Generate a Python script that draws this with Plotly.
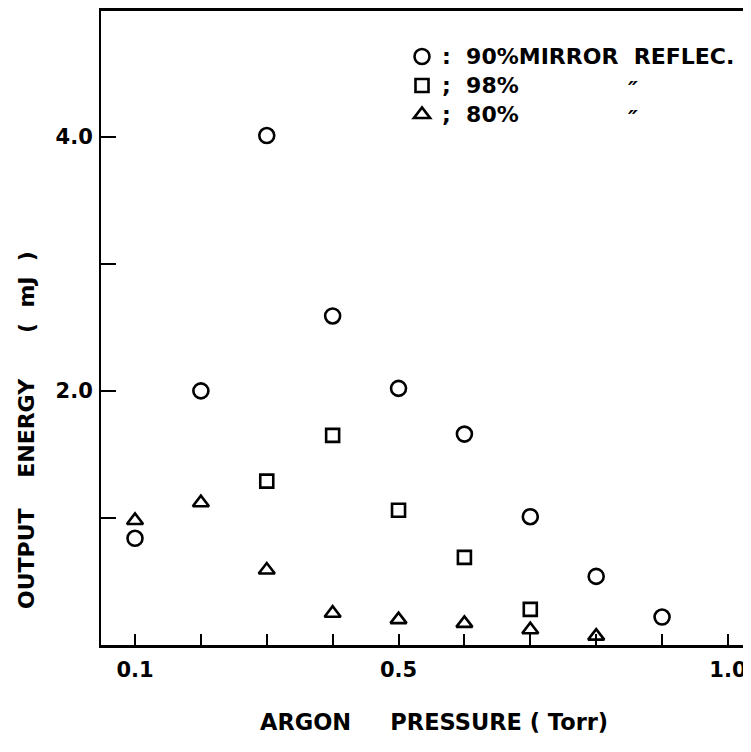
import plotly.graph_objects as go

# Argon pressure (Torr) vs output energy (mJ)
pressure_90 = [0.1, 0.2, 0.3, 0.4, 0.5, 0.6, 0.7, 0.8, 0.9]
energy_90 = [0.84, 2.00, 4.01, 2.59, 2.02, 1.66, 1.01, 0.54, 0.22]

pressure_98 = [0.3, 0.4, 0.5, 0.6, 0.7]
energy_98 = [1.29, 1.65, 1.06, 0.69, 0.28]

pressure_80 = [0.1, 0.2, 0.3, 0.4, 0.5, 0.6, 0.7, 0.8]
energy_80 = [0.98, 1.12, 0.59, 0.25, 0.20, 0.17, 0.12, 0.07]

series_names = [":&nbsp;&nbsp;90%MIRROR&nbsp;&nbsp;REFLEC.", ";&nbsp;&nbsp;98%", ";&nbsp;&nbsp;80%"]
ditto_mark = "\u2033"

x_tickvals = [0.1, 0.2, 0.3, 0.4, 0.5, 0.6, 0.7, 0.8, 0.9, 1.0]
x_ticktext = ["0.1", "", "", "", "0.5", "", "", "", "", "1.0"]
y_tickvals = [1, 2, 3, 4]
y_ticktext = ["", "2.0", "", "4.0"]

FONT = "DejaVu Sans"
OFF = 8  # page body margin offset
W, H = 751 - OFF, 752 - OFF
L, R, T, B = 93, 0, 3, 107
PW, PH = W - L - R, H - T - B


def px(xs):
    # screen x -> paper fraction
    return (xs - OFF - L) / PW


def py(ys):
    # screen y -> paper fraction
    return (H - B - (ys - OFF)) / PH


def legend_label(s):
    return '<span style="font-size:22px">' + s + '</span>'


fig = go.Figure()
fig.add_trace(go.Scatter(
    x=pressure_90, y=energy_90, mode="markers", name=legend_label(series_names[0]),
    marker=dict(symbol="circle-open", size=15, color="black", line=dict(width=2.6, color="black")),
))
fig.add_trace(go.Scatter(
    x=pressure_98, y=energy_98, mode="markers", name=legend_label(series_names[1]),
    marker=dict(symbol="square-open", size=13, color="black", line=dict(width=2.6, color="black")),
))
fig.add_trace(go.Scatter(
    x=pressure_80, y=energy_80, mode="markers", name=legend_label(series_names[2]),
    marker=dict(symbol="triangle-up-open", size=14, color="black", line=dict(width=2.6, color="black")),
))

# ditto marks for rows 2 and 3 of the key (one two-line text)
fig.add_annotation(text="<i>" + ditto_mark + "</i><br><i>" + ditto_mark + "</i>",
                   x=px(633), y=py(104), xref="paper", yref="paper",
                   xanchor="center", yanchor="middle", showarrow=False,
                   font=dict(family=FONT, size=22, color="black", weight="bold"))

# axis titles
fig.add_annotation(
    text="OUTPUT&nbsp;&nbsp;&nbsp;&nbsp;ENERGY&nbsp;&nbsp;&nbsp;&nbsp;&nbsp;&nbsp;(&nbsp;&nbsp;mJ&nbsp;&nbsp;)",
    x=px(26), y=py(430), xref="paper", yref="paper", textangle=-90,
    xanchor="center", yanchor="middle", showarrow=False,
    font=dict(family=FONT, size=22, color="black", weight="bold"))
fig.add_annotation(
    text="ARGON&nbsp;&nbsp;&nbsp;&nbsp;&nbsp;PRESSURE&nbsp;(&nbsp;Torr)",
    x=px(258), y=py(722), xref="paper", yref="paper",
    xanchor="left", yanchor="middle", showarrow=False,
    font=dict(family=FONT, size=22.5, color="black", weight="bold"))

fig.update_layout(
    width=W, height=H,
    margin=dict(l=L, r=R, t=T, b=B),
    paper_bgcolor="white", plot_bgcolor="white",
    showlegend=True,
    legend=dict(x=px(402), y=py(37), xanchor="left", yanchor="top",
                bgcolor="rgba(0,0,0,0)", borderwidth=0, tracegroupgap=0,
                itemsizing="trace",
                font=dict(family=FONT, size=20, color="black", weight="bold")),
    font=dict(family=FONT, color="black"),
)
fig.update_xaxes(
    range=[0.0484, 1.035], tickvals=x_tickvals, ticktext=x_ticktext,
    ticks="inside", ticklen=11, tickwidth=2, tickcolor="black",
    showline=True, linecolor="black", linewidth=3, mirror=True,
    showgrid=False, zeroline=False, ticklabelstandoff=4,
    tickfont=dict(family=FONT, size=21, color="black", weight="bold"),
)
fig.update_yaxes(
    range=[0, 4.99], tickvals=y_tickvals, ticktext=y_ticktext,
    ticks="inside", ticklen=15, tickwidth=2, tickcolor="black",
    showline=True, linecolor="black", linewidth=2, mirror=False,
    showgrid=False, zeroline=False, ticklabelstandoff=2,
    tickfont=dict(family=FONT, size=21, color="black", weight="bold"),
)

fig.write_html("out.html")
